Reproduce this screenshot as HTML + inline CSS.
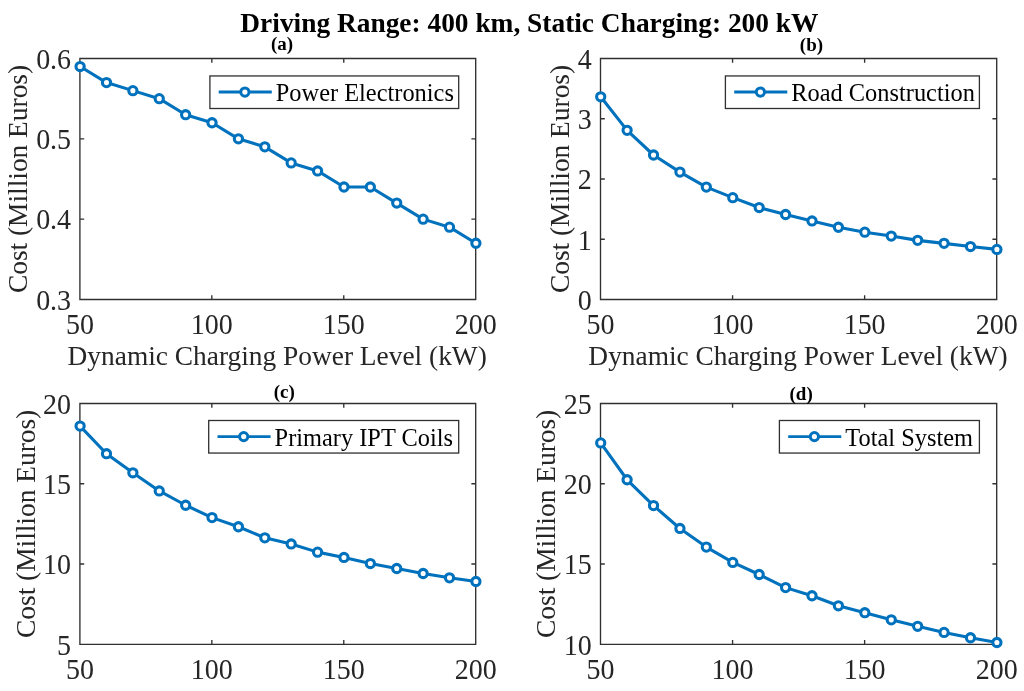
<!DOCTYPE html>
<html><head><meta charset="utf-8"><style>
html,body{margin:0;padding:0;background:#fff;}
svg{display:block;will-change:transform;font-family:"Liberation Serif",serif;}
</style></head><body>
<svg width="1024" height="691" viewBox="0 0 1024 691">
<rect width="1024" height="691" fill="#fff"/>
<text transform="translate(529.4,31.8) scale(1,1.03)" text-anchor="middle" font-size="27.4" font-weight="bold" fill="#000">Driving Range: 400 km, Static Charging: 200 kW</text>
<path d="M79.9 299.45V295.15M79.9 58.5V62.8M211.83 299.45V295.15M211.83 58.5V62.8M343.77 299.45V295.15M343.77 58.5V62.8M475.7 299.45V295.15M475.7 58.5V62.8M79.9 299.45H84.2M475.7 299.45H471.4M79.9 219.13H84.2M475.7 219.13H471.4M79.9 138.82H84.2M475.7 138.82H471.4M79.9 58.5H84.2M475.7 58.5H471.4M79.9 58.5H475.7V299.45H79.9Z" stroke="#303030" stroke-width="1.35" fill="none"/>
<text transform="translate(79.9,333.65) scale(1,1.05)" text-anchor="middle" font-size="28" fill="#262626">50</text>
<text transform="translate(211.83,333.65) scale(1,1.05)" text-anchor="middle" font-size="28" fill="#262626">100</text>
<text transform="translate(343.77,333.65) scale(1,1.05)" text-anchor="middle" font-size="28" fill="#262626">150</text>
<text transform="translate(475.7,333.65) scale(1,1.05)" text-anchor="middle" font-size="28" fill="#262626">200</text>
<text transform="translate(71.1,309.75) scale(1,1.05)" text-anchor="end" font-size="28" fill="#262626">0.3</text>
<text transform="translate(71.1,229.43) scale(1,1.05)" text-anchor="end" font-size="28" fill="#262626">0.4</text>
<text transform="translate(71.1,149.12) scale(1,1.05)" text-anchor="end" font-size="28" fill="#262626">0.5</text>
<text transform="translate(71.1,68.8) scale(1,1.05)" text-anchor="end" font-size="28" fill="#262626">0.6</text>
<polyline points="80.1,66.53 106.49,82.6 132.87,90.63 159.26,98.66 185.65,114.72 212.03,122.75 238.42,138.82 264.81,146.85 291.19,162.91 317.58,170.94 343.97,187.01 370.35,187.01 396.74,203.07 423.13,219.13 449.51,227.16 475.9,243.23" fill="none" stroke="#0072BD" stroke-width="3.1" stroke-linejoin="round"/>
<g fill="#fff" stroke="#0072BD" stroke-width="3.1"><circle cx="80.1" cy="66.53" r="4.1"/><circle cx="106.49" cy="82.6" r="4.1"/><circle cx="132.87" cy="90.63" r="4.1"/><circle cx="159.26" cy="98.66" r="4.1"/><circle cx="185.65" cy="114.72" r="4.1"/><circle cx="212.03" cy="122.75" r="4.1"/><circle cx="238.42" cy="138.82" r="4.1"/><circle cx="264.81" cy="146.85" r="4.1"/><circle cx="291.19" cy="162.91" r="4.1"/><circle cx="317.58" cy="170.94" r="4.1"/><circle cx="343.97" cy="187.01" r="4.1"/><circle cx="370.35" cy="187.01" r="4.1"/><circle cx="396.74" cy="203.07" r="4.1"/><circle cx="423.13" cy="219.13" r="4.1"/><circle cx="449.51" cy="227.16" r="4.1"/><circle cx="475.9" cy="243.23" r="4.1"/></g>
<text transform="translate(27.3,178.97) rotate(-90) scale(1,1.03)" text-anchor="middle" font-size="27.4" fill="#262626">Cost (Million Euros)</text>
<text transform="translate(277.2,365.05) scale(1,1.03)" text-anchor="middle" font-size="27.4" fill="#262626">Dynamic Charging Power Level (kW)</text>
<text transform="translate(282,50) scale(1,1.03)" text-anchor="middle" font-size="19" font-weight="bold" fill="#000">(a)</text>
<rect x="209.9" y="75.95" width="248.8" height="32.55" fill="#fff" stroke="#303030" stroke-width="1.3"/>
<path d="M218.7 92.07H271.8" stroke="#0072BD" stroke-width="2.9"/>
<circle cx="244.9" cy="92.07" r="4.1" fill="#fff" stroke="#0072BD" stroke-width="3"/>
<text transform="translate(275.8,101.32) scale(1,1.03)" text-anchor="start" font-size="24.4" fill="#000">Power Electronics</text>
<path d="M600.5 299.45V295.15M600.5 58.5V62.8M732.57 299.45V295.15M732.57 58.5V62.8M864.63 299.45V295.15M864.63 58.5V62.8M996.7 299.45V295.15M996.7 58.5V62.8M600.5 299.45H604.8M996.7 299.45H992.4M600.5 239.21H604.8M996.7 239.21H992.4M600.5 178.97H604.8M996.7 178.97H992.4M600.5 118.74H604.8M996.7 118.74H992.4M600.5 58.5H604.8M996.7 58.5H992.4M600.5 58.5H996.7V299.45H600.5Z" stroke="#303030" stroke-width="1.35" fill="none"/>
<text transform="translate(600.5,333.65) scale(1,1.05)" text-anchor="middle" font-size="28" fill="#262626">50</text>
<text transform="translate(732.57,333.65) scale(1,1.05)" text-anchor="middle" font-size="28" fill="#262626">100</text>
<text transform="translate(864.63,333.65) scale(1,1.05)" text-anchor="middle" font-size="28" fill="#262626">150</text>
<text transform="translate(996.7,333.65) scale(1,1.05)" text-anchor="middle" font-size="28" fill="#262626">200</text>
<text transform="translate(591.7,309.75) scale(1,1.05)" text-anchor="end" font-size="28" fill="#262626">0</text>
<text transform="translate(591.7,249.51) scale(1,1.05)" text-anchor="end" font-size="28" fill="#262626">1</text>
<text transform="translate(591.7,189.28) scale(1,1.05)" text-anchor="end" font-size="28" fill="#262626">2</text>
<text transform="translate(591.7,129.04) scale(1,1.05)" text-anchor="end" font-size="28" fill="#262626">3</text>
<text transform="translate(591.7,68.8) scale(1,1.05)" text-anchor="end" font-size="28" fill="#262626">4</text>
<polyline points="600.7,96.81 627.11,130.36 653.53,155 679.94,172.11 706.35,187.11 732.77,197.65 759.18,207.53 785.59,214.52 812.01,220.96 838.42,227.23 864.83,232.16 891.25,236.08 917.66,240.36 944.07,243.37 970.49,246.56 996.9,249.39" fill="none" stroke="#0072BD" stroke-width="3.1" stroke-linejoin="round"/>
<g fill="#fff" stroke="#0072BD" stroke-width="3.1"><circle cx="600.7" cy="96.81" r="4.1"/><circle cx="627.11" cy="130.36" r="4.1"/><circle cx="653.53" cy="155" r="4.1"/><circle cx="679.94" cy="172.11" r="4.1"/><circle cx="706.35" cy="187.11" r="4.1"/><circle cx="732.77" cy="197.65" r="4.1"/><circle cx="759.18" cy="207.53" r="4.1"/><circle cx="785.59" cy="214.52" r="4.1"/><circle cx="812.01" cy="220.96" r="4.1"/><circle cx="838.42" cy="227.23" r="4.1"/><circle cx="864.83" cy="232.16" r="4.1"/><circle cx="891.25" cy="236.08" r="4.1"/><circle cx="917.66" cy="240.36" r="4.1"/><circle cx="944.07" cy="243.37" r="4.1"/><circle cx="970.49" cy="246.56" r="4.1"/><circle cx="996.9" cy="249.39" r="4.1"/></g>
<text transform="translate(568.6,178.97) rotate(-90) scale(1,1.03)" text-anchor="middle" font-size="27.4" fill="#262626">Cost (Million Euros)</text>
<text transform="translate(798,365.05) scale(1,1.03)" text-anchor="middle" font-size="27.4" fill="#262626">Dynamic Charging Power Level (kW)</text>
<text transform="translate(811.4,51) scale(1,1.03)" text-anchor="middle" font-size="19" font-weight="bold" fill="#000">(b)</text>
<rect x="725.4" y="75.95" width="254" height="32.55" fill="#fff" stroke="#303030" stroke-width="1.3"/>
<path d="M734.2 92.07H787.3" stroke="#0072BD" stroke-width="2.9"/>
<circle cx="760.4" cy="92.07" r="4.1" fill="#fff" stroke="#0072BD" stroke-width="3"/>
<text transform="translate(791.3,101.32) scale(1,1.03)" text-anchor="start" font-size="24.4" fill="#000">Road Construction</text>
<path d="M79.9 644.3V640M79.9 403.45V407.75M211.83 644.3V640M211.83 403.45V407.75M343.77 644.3V640M343.77 403.45V407.75M475.7 644.3V640M475.7 403.45V407.75M79.9 644.3H84.2M475.7 644.3H471.4M79.9 564.02H84.2M475.7 564.02H471.4M79.9 483.73H84.2M475.7 483.73H471.4M79.9 403.45H84.2M475.7 403.45H471.4M79.9 403.45H475.7V644.3H79.9Z" stroke="#303030" stroke-width="1.35" fill="none"/>
<text transform="translate(79.9,678.5) scale(1,1.05)" text-anchor="middle" font-size="28" fill="#262626">50</text>
<text transform="translate(211.83,678.5) scale(1,1.05)" text-anchor="middle" font-size="28" fill="#262626">100</text>
<text transform="translate(343.77,678.5) scale(1,1.05)" text-anchor="middle" font-size="28" fill="#262626">150</text>
<text transform="translate(475.7,678.5) scale(1,1.05)" text-anchor="middle" font-size="28" fill="#262626">200</text>
<text transform="translate(71.1,654.6) scale(1,1.05)" text-anchor="end" font-size="28" fill="#262626">5</text>
<text transform="translate(71.1,574.32) scale(1,1.05)" text-anchor="end" font-size="28" fill="#262626">10</text>
<text transform="translate(71.1,494.03) scale(1,1.05)" text-anchor="end" font-size="28" fill="#262626">15</text>
<text transform="translate(71.1,413.75) scale(1,1.05)" text-anchor="end" font-size="28" fill="#262626">20</text>
<polyline points="80.1,426.09 106.49,453.71 132.87,472.81 159.26,490.96 185.65,505.25 212.03,517.61 238.42,526.77 264.81,537.84 291.19,543.95 317.58,552.13 343.97,557.43 370.35,563.53 396.74,568.51 423.13,573.49 449.51,577.83 475.9,581.52" fill="none" stroke="#0072BD" stroke-width="3.1" stroke-linejoin="round"/>
<g fill="#fff" stroke="#0072BD" stroke-width="3.1"><circle cx="80.1" cy="426.09" r="4.1"/><circle cx="106.49" cy="453.71" r="4.1"/><circle cx="132.87" cy="472.81" r="4.1"/><circle cx="159.26" cy="490.96" r="4.1"/><circle cx="185.65" cy="505.25" r="4.1"/><circle cx="212.03" cy="517.61" r="4.1"/><circle cx="238.42" cy="526.77" r="4.1"/><circle cx="264.81" cy="537.84" r="4.1"/><circle cx="291.19" cy="543.95" r="4.1"/><circle cx="317.58" cy="552.13" r="4.1"/><circle cx="343.97" cy="557.43" r="4.1"/><circle cx="370.35" cy="563.53" r="4.1"/><circle cx="396.74" cy="568.51" r="4.1"/><circle cx="423.13" cy="573.49" r="4.1"/><circle cx="449.51" cy="577.83" r="4.1"/><circle cx="475.9" cy="581.52" r="4.1"/></g>
<text transform="translate(34.6,523.88) rotate(-90) scale(1,1.03)" text-anchor="middle" font-size="27.4" fill="#262626">Cost (Million Euros)</text>
<text transform="translate(284.2,397.6) scale(1,1.03)" text-anchor="middle" font-size="19" font-weight="bold" fill="#000">(c)</text>
<rect x="208.7" y="420.5" width="250" height="32.55" fill="#fff" stroke="#303030" stroke-width="1.3"/>
<path d="M217.5 436.62H270.6" stroke="#0072BD" stroke-width="2.9"/>
<circle cx="243.7" cy="436.62" r="4.1" fill="#fff" stroke="#0072BD" stroke-width="3"/>
<text transform="translate(274.6,445.88) scale(1,1.03)" text-anchor="start" font-size="24.4" fill="#000">Primary IPT Coils</text>
<path d="M600.5 644.3V640M600.5 403.45V407.75M732.57 644.3V640M732.57 403.45V407.75M864.63 644.3V640M864.63 403.45V407.75M996.7 644.3V640M996.7 403.45V407.75M600.5 644.3H604.8M996.7 644.3H992.4M600.5 564.02H604.8M996.7 564.02H992.4M600.5 483.73H604.8M996.7 483.73H992.4M600.5 403.45H604.8M996.7 403.45H992.4M600.5 403.45H996.7V644.3H600.5Z" stroke="#303030" stroke-width="1.35" fill="none"/>
<text transform="translate(600.5,678.5) scale(1,1.05)" text-anchor="middle" font-size="28" fill="#262626">50</text>
<text transform="translate(732.57,678.5) scale(1,1.05)" text-anchor="middle" font-size="28" fill="#262626">100</text>
<text transform="translate(864.63,678.5) scale(1,1.05)" text-anchor="middle" font-size="28" fill="#262626">150</text>
<text transform="translate(996.7,678.5) scale(1,1.05)" text-anchor="middle" font-size="28" fill="#262626">200</text>
<text transform="translate(591.7,654.6) scale(1,1.05)" text-anchor="end" font-size="28" fill="#262626">10</text>
<text transform="translate(591.7,574.32) scale(1,1.05)" text-anchor="end" font-size="28" fill="#262626">15</text>
<text transform="translate(591.7,494.03) scale(1,1.05)" text-anchor="end" font-size="28" fill="#262626">20</text>
<text transform="translate(591.7,413.75) scale(1,1.05)" text-anchor="end" font-size="28" fill="#262626">25</text>
<polyline points="600.7,442.89 627.11,479.77 653.53,505.6 679.94,528.47 706.35,547.08 732.77,562.41 759.18,574.52 785.59,587.62 812.01,595.76 838.42,605.78 864.83,612.72 891.25,619.86 917.66,626.3 944.07,632.4 970.49,637.75 996.9,642.52" fill="none" stroke="#0072BD" stroke-width="3.1" stroke-linejoin="round"/>
<g fill="#fff" stroke="#0072BD" stroke-width="3.1"><circle cx="600.7" cy="442.89" r="4.1"/><circle cx="627.11" cy="479.77" r="4.1"/><circle cx="653.53" cy="505.6" r="4.1"/><circle cx="679.94" cy="528.47" r="4.1"/><circle cx="706.35" cy="547.08" r="4.1"/><circle cx="732.77" cy="562.41" r="4.1"/><circle cx="759.18" cy="574.52" r="4.1"/><circle cx="785.59" cy="587.62" r="4.1"/><circle cx="812.01" cy="595.76" r="4.1"/><circle cx="838.42" cy="605.78" r="4.1"/><circle cx="864.83" cy="612.72" r="4.1"/><circle cx="891.25" cy="619.86" r="4.1"/><circle cx="917.66" cy="626.3" r="4.1"/><circle cx="944.07" cy="632.4" r="4.1"/><circle cx="970.49" cy="637.75" r="4.1"/><circle cx="996.9" cy="642.52" r="4.1"/></g>
<text transform="translate(555,523.88) rotate(-90) scale(1,1.03)" text-anchor="middle" font-size="27.4" fill="#262626">Cost (Million Euros)</text>
<text transform="translate(801.1,400) scale(1,1.03)" text-anchor="middle" font-size="19" font-weight="bold" fill="#000">(d)</text>
<rect x="779.4" y="420.5" width="200" height="32.55" fill="#fff" stroke="#303030" stroke-width="1.3"/>
<path d="M788.2 436.62H841.3" stroke="#0072BD" stroke-width="2.9"/>
<circle cx="814.4" cy="436.62" r="4.1" fill="#fff" stroke="#0072BD" stroke-width="3"/>
<text transform="translate(845.3,445.88) scale(1,1.03)" text-anchor="start" font-size="24.4" fill="#000">Total System</text>
</svg>
</body></html>
